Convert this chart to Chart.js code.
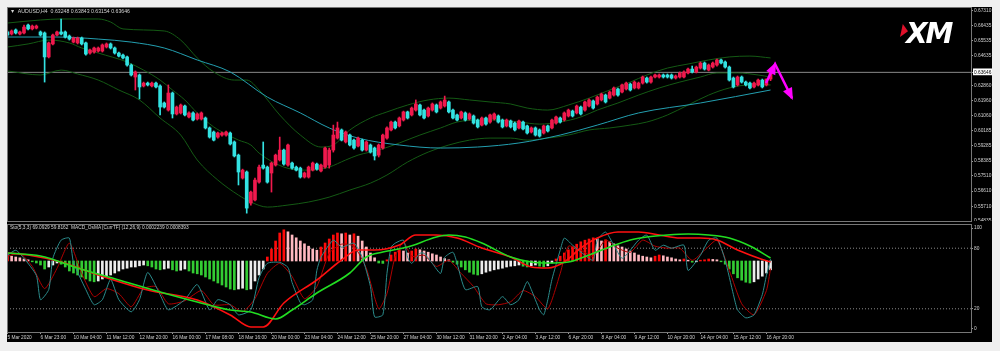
<!DOCTYPE html>
<html>
<head>
<meta charset="utf-8">
<script src="https://cdn.jsdelivr.net/npm/chart.js@4.4.1/dist/chart.umd.min.js"></script>
<style>
html, body { margin: 0; padding: 0; background: #efefef; }
#wrap { position: relative; width: 1000px; height: 351px; overflow: hidden; background: #efefef; }
#black { position: absolute; left: 7px; top: 7px; width: 985px; height: 335px; background: #000; }
canvas { position: absolute; }
#top { left: 7px; top: 7px; }
#bot { left: 7px; top: 224px; }
.frame { position: absolute; box-sizing: border-box; border: 1px solid #777; pointer-events: none; }
.txt { position: absolute; font-family: "Liberation Sans", Arial, sans-serif; color: #d4d4d4; white-space: pre; line-height: 1; }
#logo { position: absolute; left: 906px; top: 17px; font: italic bold 28px "DejaVu Sans", sans-serif; color: #fff; letter-spacing: -2px; }
#wedge { position: absolute; left: 900px; top: 24px; width: 8px; height: 13px; background: #e0102a; clip-path: polygon(35% 0, 100% 55%, 0 100%); }
</style>
</head>
<body>
<div id="wrap">
  <div id="black"></div>
  <canvas id="top" width="985" height="214"></canvas>
  <canvas id="bot" width="985" height="118"></canvas>
  <div class="frame" style="left:7px;top:7px;width:965px;height:215px"></div>
  <div class="frame" style="left:7px;top:224px;width:965px;height:109px"></div>
  <div class="txt" style="left:10px;top:9px;font-size:5.2px">▼  AUDUSD,H4  0.63248 0.63843 0.63154 0.63646</div>
  <div class="txt" style="left:10px;top:226px;font-size:4.8px">Sto(5,3,3) 69.0929 59.8162  MACD_OsMA [CurrTF] (12,26,9) 0.0002239 0.0008393</div>
  <div id="wedge"></div>
  <div id="logo">XM</div>
</div>
<script>
// AUDUSD H4, 5 Mar - 16 Apr 2020 (one entry per bar)
const opens = [
0.6604,0.6592,0.6616,0.6592,0.6598,0.6645,0.6622,0.6627,0.6604,0.6598,
0.6456,0.6533,0.6586,0.6604,0.6604,0.6580,0.6544,0.6539,0.6568,0.6539,
0.6479,0.6485,0.6491,0.6491,0.6515,0.6533,0.6509,0.6479,0.6467,0.6456,
0.6408,0.6337,0.6349,0.6284,0.6301,0.6284,0.6301,0.6284,0.6183,0.6141,
0.6242,0.6118,0.6124,0.6165,0.6100,0.6124,0.6088,0.6088,0.6094,0.6035,
0.6011,0.5981,0.5993,0.5993,0.6005,0.5952,0.5874,0.5738,0.5774,0.5590,
0.5608,0.5714,0.5815,0.5803,0.5768,0.5815,0.5845,0.5904,0.5815,0.5827,
0.5803,0.5797,0.5744,0.5744,0.5785,0.5821,0.5780,0.5803,0.5815,0.5904,
0.5975,0.6023,0.5952,0.5993,0.5963,0.5928,0.5963,0.5904,0.5934,0.5916,
0.5874,0.5916,0.5975,0.6023,0.6070,0.6047,0.6082,0.6130,0.6112,0.6141,
0.6171,0.6141,0.6106,0.6141,0.6171,0.6153,0.6165,0.6189,0.6141,0.6112,
0.6094,0.6124,0.6088,0.6106,0.6082,0.6052,0.6094,0.6070,0.6088,0.6106,
0.6082,0.6047,0.6076,0.6064,0.6035,0.6070,0.6047,0.6011,0.6035,0.6023,
0.6005,0.6047,0.6035,0.6064,0.6094,0.6082,0.6106,0.6135,0.6124,0.6159,
0.6141,0.6165,0.6195,0.6177,0.6201,0.6230,0.6212,0.6230,0.6266,0.6248,
0.6266,0.6295,0.6272,0.6272,0.6301,0.6331,0.6307,0.6337,0.6337,0.6349,
0.6349,0.6349,0.6331,0.6337,0.6337,0.6361,0.6384,0.6367,0.6390,0.6420,
0.6378,0.6396,0.6408,0.6438,0.6426,0.6396,0.6331,0.6290,0.6337,0.6307,
0.6301,0.6278,0.6290,0.6319,0.6290,0.63248];
const highs = [
0.6610,0.6616,0.6622,0.6610,0.6645,0.6651,0.6645,0.6645,0.6610,0.6604,
0.6544,0.6592,0.6610,0.6681,0.6610,0.6586,0.6574,0.6574,0.6574,0.6544,
0.6503,0.6515,0.6515,0.6533,0.6539,0.6539,0.6515,0.6485,0.6473,0.6461,
0.6414,0.6373,0.6355,0.6307,0.6307,0.6307,0.6307,0.6290,0.6189,0.6290,
0.6248,0.6165,0.6177,0.6171,0.6130,0.6130,0.6124,0.6130,0.6100,0.6041,
0.6017,0.6011,0.6011,0.6017,0.6011,0.5958,0.5880,0.5791,0.5780,0.5661,
0.5738,0.5815,0.5952,0.5809,0.5833,0.5880,0.5981,0.5910,0.5940,0.5833,
0.5809,0.5803,0.5774,0.5809,0.5833,0.5827,0.5821,0.5922,0.5916,0.6052,
0.6070,0.6029,0.6017,0.5999,0.5969,0.5981,0.5969,0.5958,0.5940,0.5922,
0.5940,0.5999,0.6041,0.6076,0.6076,0.6100,0.6135,0.6135,0.6159,0.6201,
0.6177,0.6147,0.6159,0.6183,0.6177,0.6195,0.6224,0.6195,0.6147,0.6118,
0.6135,0.6130,0.6124,0.6112,0.6088,0.6100,0.6100,0.6118,0.6124,0.6112,
0.6088,0.6088,0.6082,0.6070,0.6082,0.6076,0.6052,0.6041,0.6041,0.6029,
0.6052,0.6052,0.6088,0.6106,0.6100,0.6130,0.6147,0.6141,0.6171,0.6165,
0.6195,0.6207,0.6201,0.6224,0.6242,0.6236,0.6254,0.6278,0.6272,0.6295,
0.6307,0.6301,0.6313,0.6307,0.6343,0.6337,0.6343,0.6355,0.6355,0.6355,
0.6355,0.6355,0.6349,0.6367,0.6373,0.6390,0.6402,0.6402,0.6426,0.6426,
0.6414,0.6426,0.6444,0.6444,0.6432,0.6402,0.6337,0.6343,0.6343,0.6313,
0.6307,0.6307,0.6325,0.6325,0.6325,0.63843];
const lows = [
0.6580,0.6586,0.6592,0.6586,0.6592,0.6616,0.6616,0.6622,0.6580,0.6307,
0.6450,0.6527,0.6580,0.6586,0.6568,0.6556,0.6539,0.6533,0.6527,0.6467,
0.6473,0.6479,0.6485,0.6485,0.6509,0.6503,0.6473,0.6456,0.6444,0.6402,
0.6343,0.6260,0.6207,0.6278,0.6284,0.6278,0.6272,0.6112,0.6153,0.6135,
0.6094,0.6112,0.6118,0.6106,0.6094,0.6076,0.6082,0.6082,0.6029,0.5975,
0.5958,0.5975,0.5987,0.5987,0.5934,0.5863,0.5697,0.5732,0.5530,0.5578,
0.5602,0.5708,0.5791,0.5708,0.5655,0.5809,0.5839,0.5815,0.5809,0.5791,
0.5780,0.5738,0.5738,0.5738,0.5780,0.5785,0.5774,0.5797,0.5797,0.5892,
0.5969,0.5958,0.5946,0.5928,0.5910,0.5922,0.5898,0.5898,0.5886,0.5845,
0.5863,0.5910,0.5969,0.6017,0.6029,0.6041,0.6076,0.6088,0.6106,0.6135,
0.6106,0.6088,0.6100,0.6135,0.6124,0.6147,0.6159,0.6124,0.6088,0.6076,
0.6088,0.6076,0.6082,0.6058,0.6035,0.6047,0.6052,0.6064,0.6082,0.6064,
0.6035,0.6041,0.6035,0.6017,0.6029,0.6023,0.5999,0.6005,0.5987,0.5981,
0.5999,0.6011,0.6029,0.6058,0.6064,0.6076,0.6100,0.6100,0.6118,0.6112,
0.6135,0.6159,0.6147,0.6171,0.6195,0.6183,0.6207,0.6224,0.6224,0.6242,
0.6260,0.6254,0.6266,0.6266,0.6295,0.6301,0.6301,0.6331,0.6331,0.6331,
0.6331,0.6325,0.6325,0.6331,0.6331,0.6355,0.6361,0.6361,0.6384,0.6378,
0.6373,0.6390,0.6402,0.6414,0.6390,0.6313,0.6272,0.6284,0.6301,0.6284,
0.6266,0.6272,0.6284,0.6272,0.6284,0.63154];
const closes = [
0.6586,0.6610,0.6598,0.6604,0.6633,0.6622,0.6639,0.6639,0.6586,0.6456,
0.6539,0.6586,0.6604,0.6592,0.6574,0.6562,0.6568,0.6568,0.6533,0.6473,
0.6497,0.6509,0.6509,0.6527,0.6533,0.6509,0.6479,0.6461,0.6450,0.6408,
0.6349,0.6367,0.6278,0.6301,0.6290,0.6301,0.6278,0.6159,0.6159,0.6242,
0.6118,0.6159,0.6171,0.6112,0.6124,0.6082,0.6118,0.6124,0.6035,0.5981,
0.5963,0.6005,0.6005,0.6011,0.5940,0.5869,0.5774,0.5785,0.5560,0.5655,
0.5726,0.5803,0.5797,0.5714,0.5827,0.5874,0.5904,0.5821,0.5934,0.5797,
0.5785,0.5744,0.5768,0.5803,0.5827,0.5791,0.5815,0.5916,0.5904,0.5993,
0.6035,0.5963,0.6011,0.5934,0.5916,0.5975,0.5904,0.5952,0.5892,0.5869,
0.5934,0.5993,0.6035,0.6070,0.6035,0.6094,0.6130,0.6094,0.6153,0.6177,
0.6112,0.6094,0.6153,0.6177,0.6130,0.6189,0.6201,0.6130,0.6094,0.6082,
0.6130,0.6082,0.6118,0.6064,0.6041,0.6094,0.6058,0.6112,0.6118,0.6070,
0.6041,0.6082,0.6041,0.6023,0.6076,0.6029,0.6005,0.6035,0.5993,0.5987,
0.6047,0.6017,0.6082,0.6100,0.6070,0.6124,0.6141,0.6106,0.6165,0.6118,
0.6189,0.6201,0.6153,0.6218,0.6236,0.6189,0.6248,0.6272,0.6230,0.6290,
0.6301,0.6260,0.6307,0.6301,0.6337,0.6307,0.6337,0.6349,0.6349,0.6337,
0.6337,0.6331,0.6343,0.6361,0.6367,0.6384,0.6367,0.6396,0.6420,0.6384,
0.6408,0.6420,0.6438,0.6420,0.6396,0.6319,0.6278,0.6337,0.6307,0.6290,
0.6272,0.6301,0.6319,0.6278,0.6325,0.63646];

// indicator lines, [bar, value]
const bbUpper = [[0,0.6657],[8,0.6675],[13,0.6681],[22,0.6681],[25,0.6663],[28,0.6622],[38,0.6610],[42,0.6556],[46,0.6450],[50,0.6367],[55,0.6319],[58,0.6319],[61,0.6260],[66,0.6112],[71,0.5993],[76,0.5922],[79,0.5934],[83,0.6023],[88,0.6094],[92,0.6130],[97,0.6171],[102,0.6201],[107,0.6212],[112,0.6201],[117,0.6189],[122,0.6177],[126,0.6153],[131,0.6141],[136,0.6171],[141,0.6212],[146,0.6260],[151,0.6307],[155,0.6349],[160,0.6390],[165,0.6414],[170,0.6438],[175,0.6456],[180,0.6461],[185,0.6450]];
const bbMiddle = [[0,0.6515],[5,0.6533],[10,0.6556],[15,0.6539],[18,0.6509],[22,0.6479],[29,0.6426],[33,0.6378],[37,0.6319],[40,0.6260],[43,0.6201],[46,0.6124],[50,0.6041],[53,0.5999],[56,0.5963],[59,0.5934],[61,0.5886],[67,0.5803],[72,0.5785],[76,0.5791],[78,0.5803],[82,0.5845],[85,0.5874],[90,0.5904],[95,0.5946],[100,0.5993],[105,0.6035],[109,0.6070],[114,0.6082],[119,0.6082],[124,0.6070],[129,0.6058],[134,0.6070],[139,0.6100],[143,0.6141],[148,0.6183],[153,0.6230],[158,0.6272],[163,0.6307],[168,0.6337],[172,0.6361],[177,0.6361],[182,0.6349],[185,0.6337]];
const bbLower = [[0,0.6373],[8,0.6349],[13,0.6378],[17,0.6355],[22,0.6319],[27,0.6260],[32,0.6201],[37,0.6094],[42,0.5993],[46,0.5845],[51,0.5726],[56,0.5637],[59,0.5596],[63,0.5566],[68,0.5578],[73,0.5596],[78,0.5625],[83,0.5667],[88,0.5708],[92,0.5756],[97,0.5833],[102,0.5892],[107,0.5934],[112,0.5963],[117,0.5975],[122,0.5975],[126,0.5963],[131,0.5975],[136,0.5993],[141,0.6023],[146,0.6035],[151,0.6052],[155,0.6070],[160,0.6112],[165,0.6171],[170,0.6230],[175,0.6272],[180,0.6290],[185,0.6290]];
const maSlow = [[0,0.6574],[12,0.6574],[22,0.6562],[30,0.6544],[38,0.6509],[46,0.6438],[54,0.6367],[63,0.6218],[71,0.6124],[78,0.6035],[85,0.5975],[95,0.5934],[105,0.5916],[114,0.5922],[124,0.5946],[134,0.5993],[143,0.6052],[153,0.6124],[168,0.6183],[185,0.6260]];
const forecast = [[183.9,0.6301],[186.1,0.6414],[190.2,0.6212]];

// lower window
const osma = [
1.5,1.2,1.0,0.8,0.5, 0.3,-0.2,-0.5,-1.0,-2.0, -1.5,-1.0,-0.5,
-0.8,-1.5,-2.5,-3.0,-3.5,-4.0,-4.5,-5.0,-5.2,-5.0,-4.5,-4.0,-3.5,-3.0,
-2.5,-2.0,-1.8,-1.5,-1.5,-1.2,-1.0,-1.2,-1.5,
-2.0,-2.2,-2.0,-1.8,-2.2,-2.5,-2.3,-2.0,-2.5,-3.0,-3.2,
-3.5,-4.0,-4.5,-5.0,-5.5,-6.0,-6.5,-7.0,-7.2,-7.0,-6.8,-7.2,-7.0,
-5.0,-3.5,-2.0, 1.0,3.0,5.0,7.0,7.8,
7.3,6.5,5.8,5.0,4.3,3.7,3.0,2.7, 3.5,4.5,5.5,6.5,7.0,
6.8,7.0,6.5,6.8,6.2, 5.0,3.5,2.0, 0.8,-0.5,-0.6,0.3,
1.5,2.2,2.8,2.5, 2.0,2.5,3.0,2.8, 2.5,2.2,1.8,1.5,1.0,0.6,0.3,
-0.3,-0.8,-1.5,-2.2,-2.8,-3.3,-3.5,-3.2, -2.8,-2.5,-2.2,-2.0,-1.8,-1.5,-1.3,-1.2,
-1.0,-1.3,-1.5,-1.2,-1.0,-1.3,-1.5,-1.2, -0.5,0.5,
1.2,2.0,2.8,3.5,4.2,4.8,5.2,5.5,5.8,
5.5,5.0,5.3,4.8,4.3,3.8,3.5,3.0,2.5,2.0,1.5,
1.2,1.0,0.8,1.2,1.5,1.3,1.0,0.8,0.5,0.3,0.5,0.2,-0.3,-0.2,0.2,
0.3,0.5,0.4,0.3,-0.2,-0.8,-2.0,-3.2,-4.2,-4.8,-5.3,-5.5,-5.2,-4.5,
-3.8,-3.0,-2.2];
const macdMain = [[0,2.0],[5,1.5],[13,-0.25],[22,-3.5],[34,-7.25],[46,-9.75],[54,-13.5],[59,-16.5],[62,-16.5],[67,-10.5],[75,-4.75],[81,0.25],[85,2.75],[89,2.75],[95,4.0],[99,6.5],[104,6.5],[109,5.75],[115,3.25],[122,1.0],[127,-1.5],[131,-1.75],[135,-0.25],[139,3.25],[143,5.75],[148,7.25],[153,7.25],[158,6.5],[163,5.75],[168,5.75],[172,5.25],[177,2.75],[182,0.75],[185,-0.25]];
const macdSignal = [[0,2.0],[8,1.25],[17,-1.75],[27,-4.75],[37,-7.75],[46,-10.25],[54,-12.25],[59,-12.75],[65,-14.5],[69,-12.25],[75,-8.0],[83,-3.0],[87,1.0],[91,2.25],[97,3.5],[104,6.0],[107,6.5],[111,6.0],[115,4.5],[122,1.0],[127,-0.25],[131,-0.5],[136,-0.25],[141,1.5],[146,3.5],[151,5.25],[155,6.0],[160,6.5],[165,6.75],[170,6.5],[175,5.75],[180,3.75],[185,0.75]];
const stoMain = [[0,73],[2,78],[4,70],[7,53],[8,29],[10,39],[11,70],[13,88],[15,90],[16,66],[19,39],[21,24],[23,29],[25,49],[27,29],[30,17],[32,29],[34,56],[37,34],[39,19],[43,29],[46,44],[49,19],[51,29],[54,24],[56,14],[59,19],[61,51],[63,65],[66,66],[68,61],[69,46],[71,26],[72,24],[74,29],[75,58],[76,71],[79,88],[81,81],[84,85],[86,71],[88,42],[89,12],[91,14],[92,55],[93,81],[94,85],[96,88],[97,71],[98,65],[100,75],[101,75],[103,65],[105,55],[106,71],[108,76],[109,65],[111,39],[114,42],[115,22],[117,19],[120,32],[122,24],[124,29],[126,47],[127,39],[129,19],[130,14],[131,29],[132,49],[134,78],[135,90],[137,83],[140,73],[142,68],[143,88],[145,96],[147,83],[149,70],[151,78],[153,88],[155,93],[157,78],[159,83],[161,80],[164,83],[165,58],[168,73],[170,88],[172,90],[174,68],[176,34],[177,19],[179,11],[181,14],[183,34],[184,53],[185,69.09]];
const stoSignal = [[0,72],[3,75],[6,62],[9,40],[12,60],[15,85],[18,55],[21,32],[24,40],[27,35],[30,22],[33,40],[36,42],[39,25],[43,28],[47,38],[50,24],[54,24],[57,17],[60,30],[63,55],[66,65],[69,52],[72,30],[75,42],[78,75],[81,84],[84,82],[87,60],[90,20],[92,35],[94,72],[96,86],[98,72],[101,73],[104,62],[107,68],[110,55],[113,42],[116,25],[119,24],[122,27],[125,38],[128,32],[131,20],[134,55],[136,82],[139,78],[142,72],[145,88],[148,80],[151,76],[154,88],[157,82],[160,80],[163,80],[166,68],[169,78],[172,88],[175,58],[178,25],[181,14],[184,38],[185,59.82]];
const stoLevels = [20, 80];

// axes
const priceTicks = [0.67310, 0.66435, 0.65535, 0.64635, 0.62860, 0.61960, 0.61060, 0.60185, 0.59285, 0.58385, 0.57510, 0.56610, 0.55710, 0.54835];
const stoTicks = [0, 20, 80, 100];
const timeLabels = ['5 Mar 2020','6 Mar 23:00','10 Mar 04:00','11 Mar 12:00','12 Mar 20:00','16 Mar 00:00','17 Mar 08:00','18 Mar 16:00','20 Mar 00:00','23 Mar 04:00','24 Mar 12:00','25 Mar 20:00','27 Mar 04:00','30 Mar 12:00','31 Mar 20:00','2 Apr 04:00','3 Apr 12:00','6 Apr 20:00','8 Apr 04:00','9 Apr 12:00','10 Apr 20:00','14 Apr 04:00','15 Apr 12:00','16 Apr 20:00'];
const labelStep = 8;
const xMin = -0.12, xMax = 233.6;
const priceMin = 0.54835, priceMax = 0.6752;
const lastClose = closes[closes.length - 1];

const UP = '#f0194d', DOWN = '#33e2e2';
const BAND = '#145a14', MA = '#239fb0';
const tickFont = { family: 'Liberation Sans', size: 4.8 };
const txtCol = '#d0d0d0';

Chart.defaults.animation = false;
Chart.defaults.events = [];
Chart.defaults.plugins.legend.display = false;
Chart.defaults.plugins.tooltip.enabled = false;

const pts = arr => arr.map(p => ({ x: p[0], y: p[1] }));
const candleCol = opens.map((o, i) => closes[i] >= o ? UP : DOWN);
const lineDs = (data, color, width, axis, extra) => Object.assign({
  type: 'line', data: pts(data), borderColor: color, borderWidth: width, pointRadius: 0,
  cubicInterpolationMode: 'monotone', yAxisID: axis, xAxisID: 'x'
}, extra || {});

const arrowHeads = {
  id: 'arrowHeads',
  afterDatasetsDraw(chart) {
    const idx = chart.data.datasets.findIndex(d => d.label === 'forecast');
    if (idx < 0) return;
    const p = chart.getDatasetMeta(idx).data;
    const ctx = chart.ctx;
    ctx.save();
    ctx.fillStyle = '#ff00ff';
    [[p[0], p[1]], [p[1], p[2]]].forEach(([a, b]) => {
      const ang = Math.atan2(b.y - a.y, b.x - a.x);
      const L = 10, W = 5;
      ctx.beginPath();
      ctx.moveTo(b.x + Math.cos(ang) * 2, b.y + Math.sin(ang) * 2);
      ctx.lineTo(b.x - Math.cos(ang) * L - Math.sin(ang) * W, b.y - Math.sin(ang) * L + Math.cos(ang) * W);
      ctx.lineTo(b.x - Math.cos(ang) * L + Math.sin(ang) * W, b.y - Math.sin(ang) * L - Math.cos(ang) * W);
      ctx.closePath();
      ctx.fill();
    });
    ctx.restore();
  }
};

new Chart(document.getElementById('top'), {
  type: 'bar',
  data: {
    datasets: [
      lineDs(bbUpper, BAND, 1, 'y', { order: 6 }),
      lineDs(bbMiddle, BAND, 1, 'y', { order: 6 }),
      lineDs(bbLower, BAND, 1, 'y', { order: 6 }),
      lineDs(maSlow, MA, 1, 'y', { order: 5 }),
      lineDs([[xMin, lastClose], [xMax, lastClose]], '#8a8a8a', 1, 'y', { order: 7, cubicInterpolationMode: 'default', tension: 0 }),
      { label: 'wick', data: highs.map((h, i) => ({ x: i, y: [lows[i], h] })), backgroundColor: candleCol,
        barThickness: 1, grouped: false, order: 3, yAxisID: 'y', xAxisID: 'x' },
      { label: 'body', data: opens.map((o, i) => ({ x: i, y: [o, closes[i]] })), backgroundColor: candleCol,
        barThickness: 3, minBarLength: 1, grouped: false, order: 2, yAxisID: 'y', xAxisID: 'x' },
      lineDs(forecast, '#ff00ff', 2.5, 'y', { label: 'forecast', order: 1, cubicInterpolationMode: 'default', tension: 0 })
    ]
  },
  options: {
    responsive: false,
    layout: { padding: 0 },
    scales: {
      x: { type: 'linear', min: xMin, max: xMax, display: false, offset: false, grid: { offset: false } },
      y: {
        type: 'linear', position: 'right', min: priceMin, max: priceMax,
        afterBuildTicks: s => { s.ticks = priceTicks.concat([lastClose]).map(v => ({ value: v })); },
        afterFit: s => { s.width = 21; s.paddingTop = 0; s.paddingBottom = 0; },
        grid: { drawOnChartArea: false, drawTicks: true, tickLength: 2, color: '#999' },
        border: { display: true, color: '#808080' },
        ticks: {
          font: tickFont, padding: 1, autoSkip: false, maxRotation: 0,
          color: c => (c.tick && c.tick.value === lastClose) ? '#000' : txtCol,
          showLabelBackdrop: c => !!(c.tick && c.tick.value === lastClose),
          backdropColor: '#ffffff', backdropPadding: { top: 1, bottom: 0, left: 1, right: 1 },
          callback: v => v.toFixed(5)
        }
      }
    }
  },
  plugins: [arrowHeads]
});

const osmaCol = osma.map((v, i) => {
  const prev = i ? osma[i - 1] : v;
  if (v >= 0) return v >= prev ? '#ff0a0a' : '#ffb8c0';
  return v < prev ? '#33cc33' : '#ececec';
});

new Chart(document.getElementById('bot'), {
  type: 'bar',
  data: {
    datasets: [
      { label: 'osma', data: osma.map((v, i) => ({ x: i, y: v })), backgroundColor: osmaCol,
        barThickness: 2, grouped: false, order: 5, yAxisID: 'yOsma', xAxisID: 'x' },
      lineDs([[xMin, stoLevels[0]], [xMax, stoLevels[0]]], '#8a8a8a', 1, 'y', { order: 6, borderDash: [1, 2], cubicInterpolationMode: 'default', tension: 0 }),
      lineDs([[xMin, stoLevels[1]], [xMax, stoLevels[1]]], '#8a8a8a', 1, 'y', { order: 6, borderDash: [1, 2], cubicInterpolationMode: 'default', tension: 0 }),
      lineDs(stoMain, '#2b8c8c', 1, 'y', { order: 3, cubicInterpolationMode: 'default', tension: 0.2 }),
      lineDs(stoSignal, '#b00000', 1, 'y', { order: 3, cubicInterpolationMode: 'default', tension: 0.2 }),
      lineDs(macdMain, '#ff1010', 1.6, 'yOsma', { order: 2 }),
      lineDs(macdSignal, '#22dd22', 1.6, 'yOsma', { order: 1 })
    ]
  },
  options: {
    responsive: false,
    layout: { padding: { top: 1 } },
    scales: {
      x: {
        type: 'linear', position: 'bottom', min: xMin, max: xMax, offset: false,
        afterBuildTicks: s => { s.ticks = timeLabels.map((t, k) => ({ value: k * labelStep })); },
        afterFit: s => { s.height = 10; s.paddingLeft = 0; s.paddingRight = 0; },
        grid: { drawOnChartArea: false, drawTicks: true, tickLength: 2, color: '#999', offset: false },
        border: { display: true, color: '#808080' },
        ticks: { font: tickFont, color: txtCol, padding: 1, align: 'start', autoSkip: false, maxRotation: 0, minRotation: 0,
                 callback: (v, i) => timeLabels[i] }
      },
      y: {
        type: 'linear', axis: 'y', position: 'right', min: -3, max: 103,
        afterBuildTicks: s => { s.ticks = stoTicks.map(v => ({ value: v })); },
        afterFit: s => { s.width = 21; s.paddingTop = 0; s.paddingBottom = 0; },
        grid: { drawOnChartArea: false, drawTicks: true, tickLength: 2, color: '#999' },
        border: { display: true, color: '#808080' },
        ticks: { font: tickFont, color: txtCol, padding: 1, autoSkip: false }
      },
      yOsma: { type: 'linear', axis: 'y', position: 'left', display: false, min: -17.75, max: 9 }
    }
  }
});
</script>
</body>
</html>
